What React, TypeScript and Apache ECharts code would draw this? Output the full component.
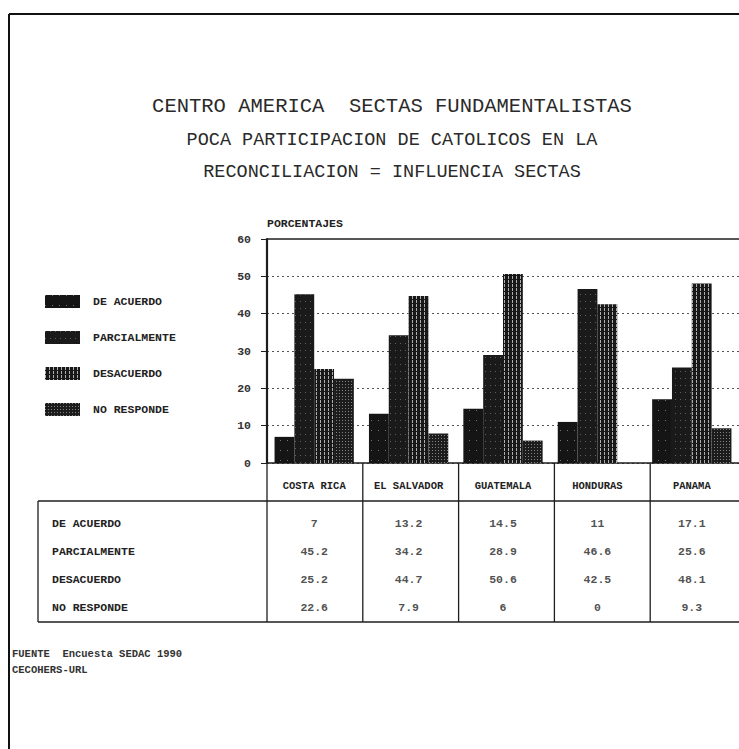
import React, { useEffect, useRef } from 'react';
import * as echarts from 'echarts';

const COUNTRIES = ['COSTA RICA', 'EL SALVADOR', 'GUATEMALA', 'HONDURAS', 'PANAMA'];
const ROW_NAMES = ['DE ACUERDO', 'PARCIALMENTE', 'DESACUERDO', 'NO RESPONDE'];
const DE_ACUERDO = [7, 13.2, 14.5, 11, 17.1];
const PARCIALMENTE = [45.2, 34.2, 28.9, 46.6, 25.6];
const DESACUERDO = [25.2, 44.7, 50.6, 42.5, 48.1];
const NO_RESPONDE = [22.6, 7.9, 6, 0, 9.3];
const SERIES_VALUES = [DE_ACUERDO, PARCIALMENTE, DESACUERDO, NO_RESPONDE];
const Y_MIN = 0;
const Y_MAX = 60;
const Y_STEP = 10;
const TITLE_LINES = [
  'CENTRO AMERICA  SECTAS FUNDAMENTALISTAS',
  'POCA PARTICIPACION DE CATOLICOS EN LA',
  'RECONCILIACION = INFLUENCIA SECTAS',
];
const FOOTER_LINES = ['FUENTE  Encuesta SEDAC 1990', 'CECOHERS-URL'];

const FONT = '"Liberation Mono", "DejaVu Sans Mono", monospace';
const INK = '#1e1e1e';

// layout
const GL = 267;
const GW = 479;
const GT = 239;
const GB = 463;
const HEADER_BOTTOM = 501;
const TABLE_TOP = 510;
const TABLE_BOTTOM = 622;
const TABLE_LEFT = 38;
const FRAME_X = 9;
const FRAME_Y = 14;

const SERIES_STYLES = [
  {
    color: '#151515',
    decal: { symbol: 'rect', symbolSize: 1, color: 'rgba(255,255,255,0.4)', dashArrayX: [1, 6], dashArrayY: [1, 9] },
  },
  {
    color: '#1a1a1a',
    decal: { symbol: 'rect', symbolSize: 1, color: 'rgba(255,255,255,0.3)', dashArrayX: [1, 4], dashArrayY: [1, 6] },
  },
  {
    color: '#181818',
    decal: { symbol: 'rect', symbolSize: 1, color: 'rgba(255,255,255,0.65)', dashArrayX: [1, 3], dashArrayY: [3, 1] },
  },
  {
    color: '#1c1c1c',
    decal: { symbol: 'rect', symbolSize: 1, color: 'rgba(255,255,255,0.45)', dashArrayX: [1, 2], dashArrayY: [1, 2] },
  },
];

export default function App() {
  const ref = useRef<HTMLDivElement>(null);

  useEffect(() => {
    if (!ref.current) return;
    const chart = echarts.init(ref.current, null, { renderer: 'svg', width: 739, height: 749 });

    const lineStyle = { stroke: INK, lineWidth: 1.3 };
    const graphics: any[] = [];
    // frame
    graphics.push({ type: 'line', shape: { x1: FRAME_X, y1: FRAME_Y, x2: 739, y2: FRAME_Y }, style: { stroke: '#111', lineWidth: 2 } });
    graphics.push({ type: 'line', shape: { x1: FRAME_X, y1: FRAME_Y, x2: FRAME_X, y2: 749 }, style: { stroke: '#111', lineWidth: 2 } });
    // plot top border
    graphics.push({ type: 'line', shape: { x1: GL, y1: GT, x2: 739, y2: GT }, style: lineStyle });
    // header bottom / table top, table bottom, table left
    graphics.push({ type: 'line', shape: { x1: TABLE_LEFT, y1: HEADER_BOTTOM, x2: 739, y2: HEADER_BOTTOM }, style: lineStyle });
    graphics.push({ type: 'line', shape: { x1: TABLE_LEFT, y1: TABLE_BOTTOM, x2: 739, y2: TABLE_BOTTOM }, style: lineStyle });
    graphics.push({ type: 'line', shape: { x1: TABLE_LEFT, y1: HEADER_BOTTOM, x2: TABLE_LEFT, y2: TABLE_BOTTOM }, style: lineStyle });
    // column separators
    for (let i = 0; i <= COUNTRIES.length; i++) {
      const x = GL + (i * GW) / COUNTRIES.length;
      graphics.push({ type: 'line', shape: { x1: x, y1: GB, x2: x, y2: TABLE_BOTTOM }, style: lineStyle });
    }
    // titles
    const titleY = [106, 140, 172];
    const titleSize = [20.5, 18.5, 18.5];
    TITLE_LINES.forEach((t, i) => {
      graphics.push({
        type: 'text',
        x: 392,
        y: titleY[i],
        style: { text: t, fontFamily: FONT, fontSize: titleSize[i], fill: '#2a2a2a', textAlign: 'center', textVerticalAlign: 'middle' },
      });
    });
    // footer
    FOOTER_LINES.forEach((t, i) => {
      graphics.push({
        type: 'text',
        x: 12,
        y: 654 + i * 16,
        style: { text: t, fontFamily: FONT, fontSize: 10.5, fontWeight: 'bold', fill: '#333', textAlign: 'left', textVerticalAlign: 'middle' },
      });
    });

    const barSeries = ROW_NAMES.map((name, i) => ({
      name,
      type: 'bar',
      xAxisIndex: 0,
      yAxisIndex: 0,
      data: SERIES_VALUES[i],
      barGap: '0%',
      barCategoryGap: '16%',
      itemStyle: { color: SERIES_STYLES[i].color, decal: SERIES_STYLES[i].decal },
      z: 3,
    }));

    const tableData: any[] = [];
    ROW_NAMES.forEach((row, r) => {
      COUNTRIES.forEach((c, ci) => {
        tableData.push([c, row, SERIES_VALUES[r][ci]]);
      });
    });

    chart.setOption({
      animation: false,
      backgroundColor: '#ffffff',
      textStyle: { fontFamily: FONT },
      legend: {
        orient: 'vertical',
        left: 40,
        top: 290,
        itemWidth: 35,
        itemHeight: 13,
        itemGap: 23,
        icon: 'rect',
        data: ROW_NAMES,
        textStyle: { fontFamily: FONT, fontSize: 11.5, fontWeight: 'bold', color: '#222', padding: [0, 0, 0, 8] },
        selectedMode: false,
      },
      grid: [
        { left: GL, top: GT, width: GW, height: GB - GT },
        { left: GL, top: TABLE_TOP, width: GW, height: TABLE_BOTTOM - 1 - TABLE_TOP },
      ],
      xAxis: [
        {
          type: 'category',
          gridIndex: 0,
          data: COUNTRIES,
          axisLine: { lineStyle: { color: INK, width: 1.5 } },
          axisTick: { alignWithLabel: true, length: 6, lineStyle: { color: INK, width: 1.3 } },
          axisLabel: { fontFamily: FONT, fontSize: 10.5, fontWeight: 'bold', color: '#222', margin: 17 },
        },
        {
          type: 'category',
          gridIndex: 1,
          data: COUNTRIES,
          show: false,
        },
      ],
      yAxis: [
        {
          type: 'value',
          gridIndex: 0,
          min: Y_MIN,
          max: Y_MAX,
          interval: Y_STEP,
          name: 'PORCENTAJES',
          nameLocation: 'end',
          nameGap: 10,
          nameTextStyle: { fontFamily: FONT, fontSize: 11.5, fontWeight: 'bold', color: '#222', align: 'left' },
          axisLine: { show: true, lineStyle: { color: INK, width: 2.2 } },
          axisTick: { show: true, length: 6, lineStyle: { color: INK } },
          axisLabel: { fontFamily: FONT, fontSize: 11.5, fontWeight: 'bold', color: '#333', margin: 16 },
          splitLine: { show: true, lineStyle: { color: '#555', type: [2, 3], width: 1 } },
        },
        {
          type: 'category',
          gridIndex: 1,
          data: ROW_NAMES,
          inverse: true,
          axisLine: { show: false },
          axisTick: { show: false },
          splitLine: { show: false },
          axisLabel: { fontFamily: FONT, fontSize: 11.5, fontWeight: 'bold', color: '#222', align: 'left', margin: GL - 52 },
        },
      ],
      series: [
        ...barSeries,
        {
          type: 'scatter',
          xAxisIndex: 1,
          yAxisIndex: 1,
          data: tableData,
          symbolSize: 1,
          itemStyle: { color: 'rgba(0,0,0,0)' },
          label: {
            show: true,
            position: 'inside',
            fontFamily: FONT,
            fontSize: 11.5,
            fontWeight: 'bold',
            color: '#222',
            formatter: (p: any) => String(p.value[2]),
          },
          silent: true,
        },
      ],
      graphic: graphics,
    });

    return () => chart.dispose();
  }, []);

  return (
    <div
      ref={ref}
      style={{ position: 'fixed', left: 0, top: 0, width: 739, height: 749, background: '#fff' }}
    />
  );
}
